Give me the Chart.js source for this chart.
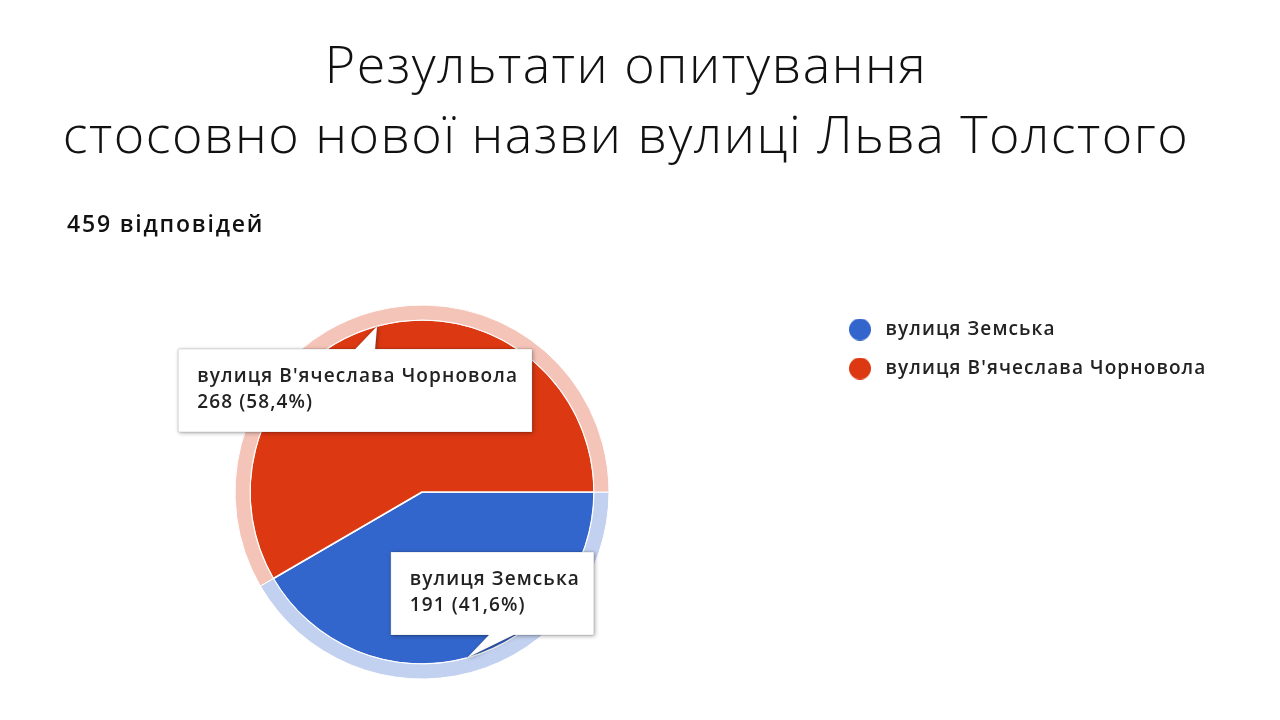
<!DOCTYPE html>
<html lang="uk">
<head>
<meta charset="utf-8">
<title>Результати опитування</title>
<script src="https://cdn.jsdelivr.net/npm/chart.js@4.4.1/dist/chart.umd.min.js"></script>
<style>
  html, body { margin: 0; padding: 0; background: #fff; }
  body { width: 1280px; height: 720px; position: relative; overflow: hidden; font-family: "Open Sans", sans-serif; color: #111; }
  #wrap { position: absolute; left: 0; top: 0; width: 1280px; height: 720px; }
  #title { position: absolute; left: 0; top: 28px; width: 1252px; text-align: center; font-weight: 300; font-size: 52px; line-height: 70px; letter-spacing: 1.5px; white-space: nowrap; }
  #count { position: absolute; left: 67px; top: 212px; font-size: 23px; font-weight: 600; line-height: 23px; letter-spacing: 1.8px; }
</style>
</head>
<body>
<div id="wrap"><canvas id="myChart" width="1280" height="720"></canvas></div>
<div id="title">Результати опитування<br>стосовно нової назви вулиці Льва Толстого</div>
<div id="count"></div>
<script>
const streets = ['вулиця Земська', "вулиця В'ячеслава Чорновола"];
const votes = [191, 268];
const solidColors = ['#3366cc', '#dc3912'];
const ringColors = ['#c2d1f0', '#f5c4b8'];

const total = votes.reduce((a, b) => a + b, 0);
document.getElementById('count').textContent = total + ' відповідей';

const labelFont = { family: '"Open Sans", sans-serif', size: 19, weight: '600' };
const fontCss = labelFont.weight + ' ' + labelFont.size + 'px ' + labelFont.family;
const spacing = '1.1px';

// legend sits to the right, its left edge wanted at x=824
const probe = document.createElement('canvas').getContext('2d');
probe.font = fontCss;
probe.letterSpacing = spacing;
const longest = Math.max(...streets.map(s => probe.measureText(s).width));
const legendPad = 20;
const markerBox = 32;
const legendWidth = legendPad + markerBox + labelFont.size / 2 + longest + 10;
const padRight = Math.max(0, 1280 - 824 - legendWidth);

// round legend markers
const dots = solidColors.map(c => {
    const cv = document.createElement('canvas');
    cv.width = 22;
    cv.height = 22;
    const g = cv.getContext('2d');
    g.fillStyle = c;
    g.beginPath();
    g.arc(11, 11, 11, 0, Math.PI * 2);
    g.fill();
    return cv;
});

function pct(v) {
    return (v / total * 100).toFixed(1).replace('.', ',') + '%';
}

const spacingPlugin = {
    id: 'spacing',
    beforeUpdate(chart) { chart.ctx.letterSpacing = spacing; },
    beforeDraw(chart) { chart.ctx.letterSpacing = spacing; }
};

// Google-style callout boxes pointing at the middle of each slice
const calloutPlugin = {
    id: 'callouts',
    afterDatasetsDraw(chart, args, opts) {
        const ctx = chart.ctx;
        const meta = chart.getDatasetMeta(1);
        ctx.save();
        ctx.font = fontCss;
        ctx.letterSpacing = spacing;
        meta.data.forEach((arc, i) => {
            const p = arc.getProps(['x', 'y', 'startAngle', 'endAngle', 'outerRadius'], true);
            const mid = (p.startAngle + p.endAngle) / 2;
            const tx = p.x + Math.cos(mid) * p.outerRadius;
            const ty = p.y + Math.sin(mid) * p.outerRadius;
            const lines = [streets[i], votes[i] + ' (' + pct(votes[i]) + ')'];
            const w = Math.max(...lines.map(l => ctx.measureText(l).width)) + 33;
            const h = 83;
            const o = opts.boxes[i];
            const bx = tx + o.dx;
            const by = o.below ? ty + o.dy : ty + o.dy - h;

            ctx.beginPath();
            if (o.below) {
                ctx.moveTo(bx, by);
                ctx.lineTo(tx + o.n1, by);
                ctx.lineTo(tx, ty);
                ctx.lineTo(tx + o.n2, by);
                ctx.lineTo(bx + w, by);
                ctx.lineTo(bx + w, by + h);
                ctx.lineTo(bx, by + h);
            } else {
                ctx.moveTo(bx, by);
                ctx.lineTo(bx + w, by);
                ctx.lineTo(bx + w, by + h);
                ctx.lineTo(tx + o.n2, by + h);
                ctx.lineTo(tx, ty);
                ctx.lineTo(tx + o.n1, by + h);
                ctx.lineTo(bx, by + h);
            }
            ctx.closePath();
            ctx.shadowColor = 'rgba(0,0,0,0.35)';
            ctx.shadowBlur = 4;
            ctx.shadowOffsetX = 1;
            ctx.shadowOffsetY = 1;
            ctx.fillStyle = '#fff';
            ctx.fill();
            ctx.shadowColor = 'transparent';
            ctx.strokeStyle = 'rgba(0,0,0,0.12)';
            ctx.lineWidth = 1;
            ctx.stroke();

            ctx.fillStyle = '#222';
            ctx.textBaseline = 'alphabetic';
            ctx.fillText(lines[0], bx + 19, by + 33);
            ctx.fillText(lines[1], bx + 19, by + 59);
        });
        ctx.restore();
    }
};

const ctx = document.getElementById('myChart');

const data = {
    labels: streets,
    datasets: [
        {
            data: votes,
            backgroundColor: ringColors,
            borderColor: '#fff',
            borderWidth: 1,
            weight: 15
        },
        {
            data: votes,
            backgroundColor: solidColors,
            borderColor: '#fff',
            borderWidth: 1.5,
            weight: 172
        }
    ]
};

const config = {
    type: 'pie',
    data: data,
    options: {
        responsive: false,
        animation: false,
        events: [],
        radius: 187,
        rotation: 90,
        layout: {
            padding: { top: 300, bottom: 36, left: 20, right: padRight }
        },
        plugins: {
            tooltip: { enabled: false },
            legend: {
                position: 'right',
                align: 'start',
                labels: {
                    usePointStyle: true,
                    pointStyleWidth: markerBox,
                    boxHeight: 15.5,
                    padding: legendPad,
                    color: '#222',
                    font: labelFont,
                    generateLabels(chart) {
                        const items = Chart.overrides.doughnut.plugins.legend.labels.generateLabels(chart);
                        return items.map((it, i) => Object.assign(it, {
                            fillStyle: solidColors[i],
                            strokeStyle: solidColors[i],
                            lineWidth: 0,
                            pointStyle: dots[i]
                        }));
                    }
                }
            },
            callouts: {
                boxes: [
                    { dx: -76, dy: -23, below: false, n1: 22, n2: 47 },
                    { dx: -199, dy: 23, below: true, n1: -22, n2: -2 }
                ]
            }
        }
    },
    plugins: [spacingPlugin, calloutPlugin]
};

new Chart(ctx, config);
</script>
</body>
</html>
